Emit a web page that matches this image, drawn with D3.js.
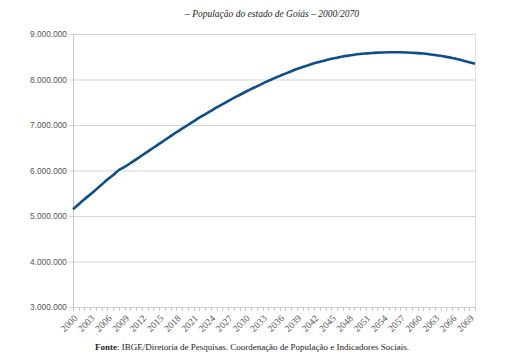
<!DOCTYPE html>
<html>
<head>
<meta charset="utf-8">
<script src="https://cdn.jsdelivr.net/npm/d3@7"></script>
<style>
body { margin: 0; background: #fff; }
</style>
</head>
<body>
<div class="container"></div>
<script>
var title = "– População do estado de Goiás – 2000/2070";
var years = d3.range(2000, 2071);
// populacao em milhoes
var pop = [5.15, 5.26, 5.37, 5.47, 5.58, 5.69, 5.80, 5.90, 6.01, 6.08,
	6.16, 6.245, 6.33, 6.415, 6.50, 6.585, 6.67, 6.755, 6.84, 6.92,
	7.00, 7.08, 7.16, 7.235, 7.31, 7.385, 7.455, 7.525, 7.595, 7.66,
	7.725, 7.79, 7.85, 7.91, 7.97, 8.025, 8.08, 8.13, 8.18, 8.23,
	8.275, 8.315, 8.355, 8.39, 8.425, 8.455, 8.48, 8.505, 8.525, 8.545,
	8.56, 8.572, 8.583, 8.59, 8.595, 8.598, 8.60, 8.598, 8.594, 8.588,
	8.58, 8.57, 8.556, 8.54, 8.52, 8.497, 8.472, 8.444, 8.413, 8.38, 8.345];
var yTicks = [3000000, 4000000, 5000000, 6000000, 7000000, 8000000, 9000000];
var xLabelYears = d3.range(2000, 2070, 3);

var W = 505, H = 359;
var plotL = 73, plotR = 475, plotT = 34, plotB = 307;

var svg = d3.select(".container").append("svg")
	.attr("width", W)
	.attr("height", H);

var x = d3.scaleLinear().domain([2000, 2070]).range([plotL, plotR]);
var y = d3.scaleLinear().domain([3000000, 9000000]).range([plotB, plotT]);

// grade horizontal
svg.append("g")
	.selectAll("line")
	.data(yTicks)
	.join("line")
	.attr("x1", plotL - 4)
	.attr("x2", plotR)
	.attr("y1", d => y(d) + 0.5)
	.attr("y2", d => y(d) + 0.5)
	.style("stroke", "#d4d4d4")
	.style("stroke-width", "1px");

// borda da area
svg.append("line")
	.attr("x1", plotR + 0.5).attr("x2", plotR + 0.5)
	.attr("y1", plotT).attr("y2", plotB)
	.style("stroke", "#e0e0e0");
svg.append("line")
	.attr("x1", plotL + 0.5).attr("x2", plotL + 0.5)
	.attr("y1", plotT).attr("y2", plotB + 4)
	.style("stroke", "#c8c8c8");

svg.append("g")
	.selectAll("text")
	.data(yTicks)
	.join("text")
	.attr("x", plotL - 6)
	.attr("y", d => y(d) + 3)
	.attr("text-anchor", "end")
	.style("font-family", "Liberation Sans, Arial, sans-serif")
	.style("font-size", "8.3px")
	.style("fill", "#555")
	.text(d => d3.format(",")(d).replace(/,/g, "."));

// eixo x com marcas anuais
svg.append("g")
	.selectAll("line")
	.data(years.slice(1))
	.join("line")
	.attr("x1", d => Math.round(x(d)) + 0.5)
	.attr("x2", d => Math.round(x(d)) + 0.5)
	.attr("y1", plotB)
	.attr("y2", plotB + 4)
	.style("stroke", "#c8c8c8");

svg.append("g")
	.selectAll("text")
	.data(xLabelYears)
	.join("text")
	.attr("transform", d => "translate(" + (x(d) + 5) + "," + (plotB + 12) + ") rotate(-45)")
	.attr("text-anchor", "end")
	.style("font-family", "Liberation Serif, Times New Roman, serif")
	.style("font-size", "9.5px")
	.style("fill", "#555")
	.text(d => d);

// linha da populacao
var line = d3.line()
	.x((d, i) => x(years[i]))
	.y(d => y(d * 1000000))
	.curve(d3.curveMonotoneX);

svg.append("path")
	.datum(pop)
	.attr("d", line)
	.style("fill", "none")
	.style("stroke", "#0d4d8c")
	.style("stroke-width", "2.6px");

svg.append("text")
	.attr("x", 272)
	.attr("y", 17)
	.attr("text-anchor", "middle")
	.style("font-family", "Liberation Serif, Times New Roman, serif")
	.style("font-style", "italic")
	.style("font-size", "9.5px")
	.style("fill", "#222")
	.text(title);

var src = svg.append("text")
	.attr("x", 252)
	.attr("y", 350)
	.attr("text-anchor", "middle")
	.style("font-family", "Liberation Serif, Times New Roman, serif")
	.style("font-size", "9px")
	.style("fill", "#222");
src.append("tspan").style("font-weight", "bold").text("Fonte");
src.append("tspan").text(": IBGE/Diretoria de Pesquisas. Coordenação de População e Indicadores Sociais.");
</script>
</body>
</html>
